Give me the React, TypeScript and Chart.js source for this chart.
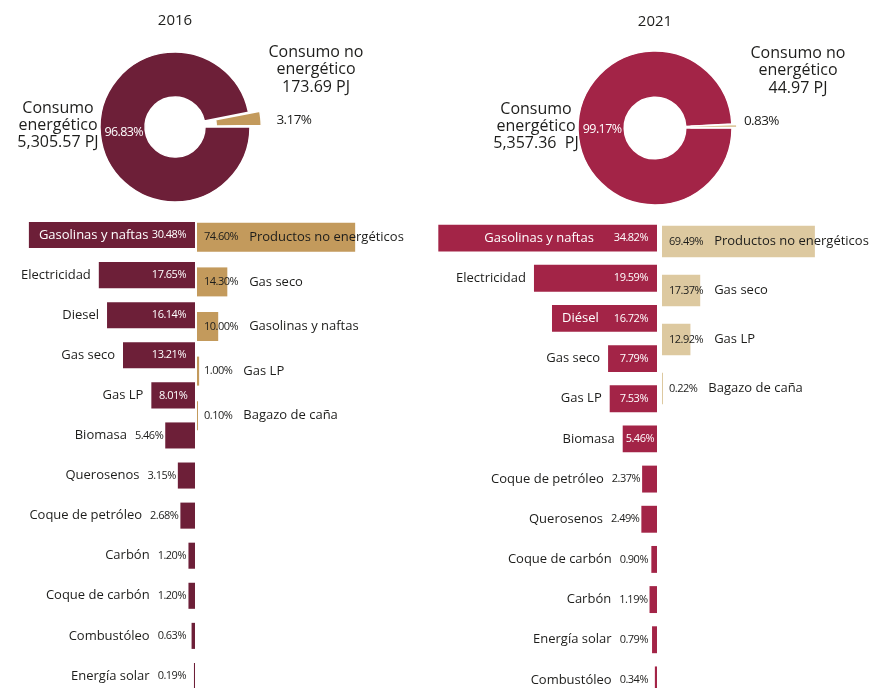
import React, { useEffect, useRef } from "react";
import { Chart, registerables } from "chart.js";

Chart.register(...registerables);

const FONT = '"Open Sans", sans-serif';
const TEXT = "#1d1d1b";

// ---------- data ----------
const years = ["2016", "2021"];
const donutShare2016 = [96.83, 3.17];
const donutShare2021 = [99.17, 0.83];
const donutNames = [["Consumo", "energético"], ["Consumo no", "energético"]];
const donutPJ2016 = ["5,305.57 PJ", "173.69 PJ"];
const donutPJ2021 = ["5,357.36  PJ", "44.97 PJ"];

const energy2016Labels = [
  "Gasolinas y naftas", "Electricidad", "Diesel", "Gas seco", "Gas LP", "Biomasa",
  "Querosenos", "Coque de petróleo", "Carbón", "Coque de carbón", "Combustóleo", "Energía solar",
];
const energy2016Values = [30.48, 17.65, 16.14, 13.21, 8.01, 5.46, 3.15, 2.68, 1.2, 1.2, 0.63, 0.19];

const nonEnergy2016Labels = ["Productos no energéticos", "Gas seco", "Gasolinas y naftas", "Gas LP", "Bagazo de caña"];
const nonEnergy2016Values = [74.6, 14.3, 10.0, 1.0, 0.1];

const energy2021Labels = [
  "Gasolinas y naftas", "Electricidad", "Diésel", "Gas seco", "Gas LP", "Biomasa",
  "Coque de petróleo", "Querosenos", "Coque de carbón", "Carbón", "Energía solar", "Combustóleo",
];
const energy2021Values = [34.82, 19.59, 16.72, 7.79, 7.53, 5.46, 2.37, 2.49, 0.9, 1.19, 0.79, 0.34];

const nonEnergy2021Labels = ["Productos no energéticos", "Gas seco", "Gas LP", "Bagazo de caña"];
const nonEnergy2021Values = [69.49, 17.37, 12.92, 0.22];

// ---------- colours ----------
const MAROON = "#6D1F38";
const GOLD = "#C39A5C";
const CRIMSON = "#A32447";
const BEIGE = "#DDC9A0";

const pct = (v: number) => v.toFixed(2) + "%";

// ---------- plugins ----------
const donutLabelPlugin = {
  id: "donutLabels",
  afterDraw(chart: any) {
    const ctx = chart.ctx;
    const o = chart.options.plugins.donutLabels;
    const meta = chart.getDatasetMeta(0);
    const big = meta.data[0] as any;
    const small = meta.data[1] as any;
    const cx = big.x, cy = big.y, R = big.outerRadius, r = big.innerRadius;
    const data = chart.data.datasets[0].data as number[];
    const offsets = chart.data.datasets[0].offset as number[];
    ctx.save();
    ctx.textBaseline = "middle";
    // title
    ctx.fillStyle = TEXT;
    ctx.textAlign = "center";
    ctx.font = `500 15px ${FONT}`;
    ctx.fillText(o.title, cx, cy - 106);
    // big slice percent
    const midBig = (big.startAngle + big.endAngle) / 2;
    const rm = (R + r) / 2;
    ctx.fillStyle = "#fff";
    ctx.font = `12.5px ${FONT}`;
    (ctx as any).letterSpacing = "-0.6px";
    ctx.fillText(pct(data[0]), cx + rm * Math.cos(midBig) + 1, cy + rm * Math.sin(midBig));
    // small slice percent
    const midSmall = (small.startAngle + small.endAngle) / 2;
    const rr = R + offsets[1] + 2;
    ctx.fillStyle = TEXT;
    ctx.textAlign = "left";
    ctx.font = `500 13.5px ${FONT}`;
    ctx.fillText(pct(data[1]), cx + rr * Math.cos(midSmall), cy - 7);
    (ctx as any).letterSpacing = "0px";
    // name blocks
    ctx.textAlign = "center";
    ctx.font = `500 16px ${FONT}`;
    const left = [...o.names[0], o.pj[0]];
    left.forEach((t: string, i: number) => ctx.fillText(t, cx - R - 42, cy - 19 + i * 17));
    const right = [...o.names[1], o.pj[1]];
    right.forEach((t: string, i: number) => ctx.fillText(t, cx + R + 66, cy - 75 + i * 17.5));
    ctx.restore();
  },
};

const energyLabelPlugin = {
  id: "energyLabels",
  afterDatasetsDraw(chart: any) {
    const ctx = chart.ctx;
    const meta = chart.getDatasetMeta(0);
    const labels = chart.data.labels as string[];
    const values = chart.data.datasets[0].data as number[];
    meta.data.forEach((bar: any, i: number) => {
      const left = Math.min(bar.x, bar.base);
      const right = Math.max(bar.x, bar.base);
      const w = right - left;
      const y = bar.y;
      const name = labels[i];
      const p = pct(values[i]);
      ctx.save();
      ctx.textBaseline = "middle";
      ctx.textAlign = "right";
      ctx.font = `500 13px ${FONT}`;
      const nameW = ctx.measureText(name).width;
      ctx.font = `500 11px ${FONT}`;
      (ctx as any).letterSpacing = "-0.5px";
      const pctW = ctx.measureText(p).width;
      const pad = 9;
      const pctInside = pctW + 2 <= w;
      const pctRight = pctInside ? right - Math.min(pad, (w - pctW) / 2) : Math.min(left - 2, right - pad);
      ctx.fillStyle = pctInside ? "#fff" : TEXT;
      ctx.fillText(p, pctRight, y);
      (ctx as any).letterSpacing = "0px";
      ctx.font = `500 13px ${FONT}`;
      const pctLeft = pctRight - pctW;
      const need = nameW + pctW + 19;
      if (need <= w) {
        const gap = Math.min(20, Math.max(2, w - need));
        ctx.fillStyle = "#fff";
        ctx.fillText(name, pctLeft - gap, y);
      } else {
        ctx.fillStyle = TEXT;
        ctx.fillText(name, (pctInside ? left : pctLeft) - 8, y);
      }
      ctx.restore();
    });
  },
};

const nonEnergyLabelPlugin = {
  id: "nonEnergyLabels",
  afterDatasetsDraw(chart: any) {
    const ctx = chart.ctx;
    const meta = chart.getDatasetMeta(0);
    const labels = chart.data.labels as string[];
    const values = chart.data.datasets[0].data as number[];
    meta.data.forEach((bar: any, i: number) => {
      const start = Math.min(bar.x, bar.base);
      const y = bar.y;
      ctx.save();
      ctx.textBaseline = "middle";
      ctx.textAlign = "left";
      ctx.fillStyle = TEXT;
      ctx.font = `500 11px ${FONT}`;
      (ctx as any).letterSpacing = "-0.5px";
      const p = pct(values[i]);
      const pctW = ctx.measureText(p).width;
      ctx.fillText(p, start + 7, y);
      (ctx as any).letterSpacing = "0px";
      ctx.font = `500 13px ${FONT}`;
      ctx.fillText(labels[i], start + 7 + pctW + 11, y);
      ctx.restore();
    });
  },
};

// ---------- components ----------
type Box = { left: number; top: number; width: number; height: number };

function ChartCanvas({ box, make }: { box: Box; make: () => any }) {
  const ref = useRef<HTMLCanvasElement | null>(null);
  useEffect(() => {
    if (!ref.current) return;
    const chart = new Chart(ref.current, make());
    return () => chart.destroy();
  }, []);
  return (
    <canvas
      ref={ref}
      width={box.width}
      height={box.height}
      style={{ position: "absolute", left: box.left, top: box.top, width: box.width, height: box.height }}
    />
  );
}

function donutConfig(
  title: string,
  share: number[],
  pj: string[],
  colors: string[],
  radius: number,
  offset: number,
  padRight: number
) {
  return () => ({
    type: "doughnut",
    data: {
      labels: ["Consumo energético", "Consumo no energético"],
      datasets: [
        {
          data: share,
          backgroundColor: colors,
          borderColor: "#fff",
          borderWidth: 1.5,
          offset: [0, offset],
        },
      ],
    },
    options: {
      responsive: false,
      animation: false,
      radius,
      cutout: "40%",
      rotation: 90,
      layout: { padding: { right: padRight } },
      plugins: {
        legend: { display: false },
        tooltip: { enabled: false },
        donutLabels: { title, names: donutNames, pj },
      },
    },
    plugins: [donutLabelPlugin],
  });
}

function barConfig(labels: string[], values: number[], color: string, reverse: boolean, max: number, barPct: number, plugin: any) {
  return () => ({
    type: "bar",
    data: {
      labels,
      datasets: [
        {
          data: values,
          backgroundColor: color,
          borderWidth: 0,
          barPercentage: barPct,
          categoryPercentage: 1,
          minBarLength: 1,
        },
      ],
    },
    options: {
      indexAxis: "y",
      responsive: false,
      animation: false,
      layout: { padding: 0 },
      plugins: { legend: { display: false }, tooltip: { enabled: false } },
      scales: {
        x: { display: false, reverse, min: 0, max },
        y: { display: false },
      },
    },
    plugins: [plugin],
  });
}

export default function App() {
  return (
    <div
      style={{
        position: "absolute",
        left: 0,
        top: 0,
        width: 885,
        height: 688,
        overflow: "hidden",
        background: "#fff",
      }}
    >
      <ChartCanvas
        box={{ left: 0, top: 0, width: 440, height: 254 }}
        make={donutConfig(years[0], donutShare2016, donutPJ2016, [MAROON, GOLD], 75, 25, 90)}
      />
      <ChartCanvas
        box={{ left: 440, top: 0, width: 445, height: 256 }}
        make={donutConfig(years[1], donutShare2021, donutPJ2021, [CRIMSON, BEIGE], 77, 10, 15)}
      />
      <ChartCanvas
        box={{ left: 0, top: 215, width: 195, height: 481 }}
        make={barConfig(energy2016Labels, energy2016Values, MAROON, true, 35.78, 0.65, energyLabelPlugin)}
      />
      <ChartCanvas
        box={{ left: 197, top: 215, width: 240, height: 223 }}
        make={barConfig(nonEnergy2016Labels, nonEnergy2016Values, GOLD, false, 113.2, 0.65, nonEnergyLabelPlugin)}
      />
      <ChartCanvas
        box={{ left: 437, top: 218, width: 220, height: 482 }}
        make={barConfig(energy2021Labels, energy2021Values, CRIMSON, true, 35.03, 0.67, energyLabelPlugin)}
      />
      <ChartCanvas
        box={{ left: 662, top: 217, width: 223, height: 196 }}
        make={barConfig(nonEnergy2021Labels, nonEnergy2021Values, BEIGE, false, 101.36, 0.64, nonEnergyLabelPlugin)}
      />
    </div>
  );
}
